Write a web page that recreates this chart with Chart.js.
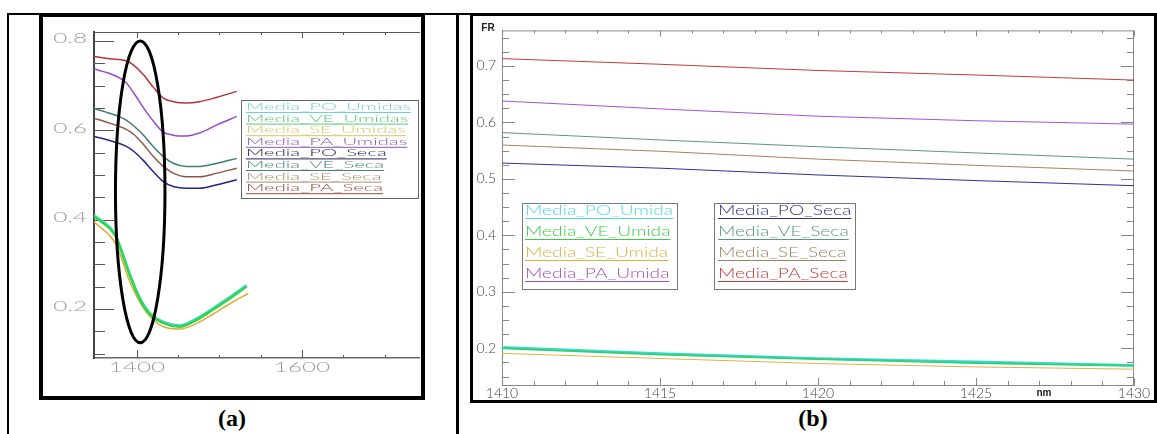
<!DOCTYPE html>
<html>
<head>
<meta charset="utf-8">
<script src="https://cdn.jsdelivr.net/npm/chart.js@4"></script>
<style>
  body { margin: 0; background: #fff; width: 1157px; height: 434px; position: relative; overflow: hidden; }
  .line { position: absolute; background: #000; }
  .frame { position: absolute; border: 4px solid #000; box-sizing: border-box; pointer-events: none; }
  .box { position: absolute; }
  .cap { position: absolute; width: 60px; text-align: center; font: bold 24px "Liberation Serif"; line-height: 28px; }
</style>
</head>
<body>
<div class="line" style="left:7px;top:13px;width:2px;height:421px"></div>
<div class="line" style="left:7px;top:13px;width:1150px;height:2px"></div>
<div class="line" style="left:456px;top:13px;width:3px;height:421px"></div>
<div class="box" style="left:43px;top:17px;width:377px;height:378px"><canvas id="chartA"></canvas></div>
<div class="box" style="left:473px;top:16px;width:684px;height:386px"><canvas id="chartB"></canvas></div>
<div class="frame" style="left:39px;top:13px;width:386px;height:387px"></div>
<div class="frame" style="left:470px;top:13px;width:687px;height:390px;border-width:3px"></div>
<div class="cap" style="left:202px;top:404px">(a)</div>
<div class="cap" style="left:783px;top:404px">(b)</div>

<script>
// ---------- dados (a): espectro 1348-1540 nm ----------
const xA = [1348, 1367, 1386, 1396, 1408, 1420, 1432, 1444, 1460, 1476, 1497, 1521];
const poSecaA = [0.586, 0.577, 0.565, 0.553, 0.532, 0.507, 0.485, 0.474, 0.470, 0.470, 0.478, 0.489];
const veSecaA = [0.649, 0.638, 0.624, 0.610, 0.589, 0.563, 0.541, 0.526, 0.519, 0.519, 0.526, 0.537];
const seSecaA = [0.627, 0.616, 0.603, 0.591, 0.568, 0.541, 0.519, 0.504, 0.496, 0.496, 0.504, 0.515];
const paSecaA = [0.765, 0.760, 0.756, 0.746, 0.724, 0.696, 0.672, 0.664, 0.661, 0.664, 0.674, 0.687];
const paUmidaA = [0.737, 0.727, 0.708, 0.684, 0.650, 0.620, 0.596, 0.589, 0.587, 0.594, 0.612, 0.631];

const xUmidaA = [1348, 1373, 1379, 1392, 1404, 1416, 1432, 1452, 1472, 1492, 1513, 1533];
const veUmidaA = [0.407, 0.366, 0.340, 0.272, 0.220, 0.187, 0.168, 0.160, 0.175, 0.198, 0.224, 0.250];
const poUmidaA = [0.410, 0.369, 0.343, 0.275, 0.223, 0.190, 0.171, 0.163, 0.178, 0.201, 0.227, 0.253];
const xSeUmidaA = [1348, 1375, 1392, 1412, 1432, 1452, 1472, 1492, 1513, 1535];
const seUmidaA = [0.395, 0.343, 0.258, 0.191, 0.160, 0.155, 0.167, 0.188, 0.212, 0.235];

const xTicksA = [1400, 1450, 1500, 1550, 1600, 1650, 1700];
const xLabelsA = [1400, 1600];
const yTicksA = [0.1, 0.15, 0.2, 0.25, 0.3, 0.35, 0.4, 0.45, 0.5, 0.55, 0.6, 0.65, 0.7, 0.75, 0.8];
const yLabelsA = [0.2, 0.4, 0.6, 0.8];
const namesA = ['Media_PO_Umidas', 'Media_VE_Umidas', 'Media_SE_Umidas', 'Media_PA_Umidas',
                'Media_PO_Seca', 'Media_VE_Seca', 'Media_SE_Seca', 'Media_PA_Seca'];

// ---------- dados (b): detalhe 1410-1430 nm ----------
const xB = [1410, 1415, 1420, 1425, 1430];
const poUmidaB = [0.202, 0.191, 0.182, 0.176, 0.170];
const veUmidaB = [0.200, 0.189, 0.181, 0.174, 0.169];
const seUmidaB = [0.191, 0.182, 0.173, 0.167, 0.163];
const paUmidaB = [0.638, 0.624, 0.611, 0.603, 0.597];
const poSecaB = [0.528, 0.519, 0.507, 0.497, 0.488];
const veSecaB = [0.582, 0.569, 0.557, 0.546, 0.535];
const seSecaB = [0.560, 0.549, 0.535, 0.524, 0.514];
const paSecaB = [0.713, 0.703, 0.692, 0.684, 0.675];

const xTicksB = [1410, 1411, 1412, 1413, 1414, 1415, 1416, 1417, 1418, 1419, 1420,
                 1421, 1422, 1423, 1424, 1425, 1426, 1427, 1428, 1429, 1430];
const xLabelsB = [1410, 1415, 1420, 1425, 1430];
const yTicksB = [0.15, 0.175, 0.2, 0.225, 0.25, 0.275, 0.3, 0.325, 0.35, 0.375, 0.4, 0.425, 0.45,
                 0.475, 0.5, 0.525, 0.55, 0.575, 0.6, 0.625, 0.65, 0.675, 0.7, 0.725, 0.75];
const yLabelsB = [0.2, 0.3, 0.4, 0.5, 0.6, 0.7];
const namesB = ['Media_PO_Umida', 'Media_VE_Umida', 'Media_SE_Umida', 'Media_PA_Umida',
                'Media_PO_Seca', 'Media_VE_Seca', 'Media_SE_Seca', 'Media_PA_Seca'];

// cores (linha / texto da legenda)
const lineColorsA = ['#48d4d4', '#2fd84a', '#e2a838', '#9a48c8', '#24248a', '#3f7d70', '#8c5846', '#b2343a'];
const textColorsA = ['#74cdd6', '#58c878', '#d8c468', '#8c5aae', '#262650', '#4a8478', '#a88e6e', '#9a4a3a'];
const lineColorsB = ['#40d8e0', '#2fd27a', '#e2b048', '#a656c8', '#33338e', '#5a9686', '#a88262', '#c23c3c'];
const textColorsB = ['#4fd8e2', '#3ccc48', '#dcb040', '#a050c0', '#303088', '#5a9484', '#a08262', '#c03a3a'];

const pts = (xs, ys) => xs.map((x, i) => ({x: x, y: ys[i]}));

function stretch(ctx, text, x, y, k, align) {
  ctx.save();
  ctx.translate(x, y);
  ctx.scale(k, 1);
  ctx.textAlign = align;
  ctx.fillText(text, 0, 0);
  ctx.restore();
}

// marcas para dentro nos 4 lados
const frameTicks = {
  id: 'frameTicks',
  beforeDatasetsDraw(chart, args, o) {
    const {ctx, chartArea: a, scales: {x, y}} = chart;
    ctx.save();
    ctx.strokeStyle = o.color;
    ctx.lineWidth = 1;
    ctx.beginPath();
    ctx.moveTo(a.left, a.top + 0.5);
    ctx.lineTo(a.right, a.top + 0.5);
    if (o.right) {
      ctx.moveTo(a.right - 0.5, a.top);
      ctx.lineTo(a.right - 0.5, a.bottom);
    }
    x.ticks.forEach(t => {
      const p = Math.round(x.getPixelForValue(t.value)) + 0.5;
      const m = o.xMajor.includes(t.value);
      ctx.moveTo(p, a.bottom);
      ctx.lineTo(p, a.bottom - (m ? o.bMaj : o.bMin));
      ctx.moveTo(p, a.top);
      ctx.lineTo(p, a.top + (m ? o.tMaj : o.tMin));
    });
    y.ticks.forEach(t => {
      const p = Math.round(y.getPixelForValue(t.value)) + 0.5;
      const len = o.yMajor.includes(t.value) ? o.lMaj : o.lMin;
      ctx.moveTo(a.left, p);
      ctx.lineTo(a.left + len, p);
      if (o.right) {
        ctx.moveTo(a.right, p);
        ctx.lineTo(a.right - len, p);
      }
    });
    ctx.stroke();
    ctx.restore();
  }
};

// legenda em caixas, texto sublinhado
const boxLegend = {
  id: 'boxLegend',
  afterDatasetsDraw(chart, args, o) {
    const ctx = chart.ctx;
    ctx.save();
    ctx.font = o.font;
    ctx.textBaseline = 'alphabetic';
    const k = o.fitWidth / ctx.measureText(o.fitText).width;
    o.boxes.forEach(b => {
      ctx.fillStyle = '#fff';
      ctx.fillRect(b.x, b.y, b.w, b.h);
      ctx.strokeStyle = o.border;
      ctx.lineWidth = 1;
      ctx.strokeRect(b.x + 0.5, b.y + 0.5, b.w, b.h);
      b.items.forEach((i, n) => {
        const ds = chart.data.datasets[i];
        const yb = b.base + n * o.row;
        ctx.fillStyle = ds.legendColor;
        stretch(ctx, ds.label, b.tx, yb, k, 'left');
        ctx.fillRect(b.tx, yb + o.ul, ctx.measureText(ds.label).width * k, 1);
      });
    });
    ctx.restore();
  }
};

// rótulos dos eixos de (a), esticados na horizontal como no original
const labelsA = {
  id: 'labelsA',
  afterDraw(chart, args, o) {
    const {ctx, chartArea: a, scales: {x, y}} = chart;
    ctx.save();
    ctx.font = o.font;
    ctx.fillStyle = o.color;
    ctx.textBaseline = 'middle';
    yLabelsA.forEach(v => stretch(ctx, v.toFixed(1), a.left - 7, y.getPixelForValue(v) - 2, o.k, 'right'));
    ctx.textBaseline = 'alphabetic';
    xLabelsA.forEach(v => stretch(ctx, String(v), x.getPixelForValue(v), a.bottom + 14, o.k, 'center'));
    ctx.restore();
  }
};

// elipse destacando a banda de 1400 nm
const ring = {
  id: 'ring',
  afterDatasetsDraw(chart, args, o) {
    const {ctx, scales: {x, y}} = chart;
    const cx = x.getPixelForValue(o.x), cy = y.getPixelForValue(o.y);
    const rx = x.getPixelForValue(o.x + o.rx) - cx;
    const ry = cy - y.getPixelForValue(o.y + o.ry);
    ctx.save();
    ctx.lineWidth = 3;
    ctx.strokeStyle = '#000';
    ctx.beginPath();
    ctx.ellipse(cx, cy, rx, ry, 0, 0, 2 * Math.PI);
    ctx.stroke();
    ctx.restore();
  }
};

const axisNames = {
  id: 'axisNames',
  afterDraw(chart) {
    const ctx = chart.ctx;
    ctx.save();
    ctx.font = 'bold 10px "Liberation Sans"';
    ctx.fillStyle = '#222';
    ctx.textAlign = 'center';
    ctx.textBaseline = 'middle';
    ctx.fillText('FR', 15, 12);
    ctx.fillText('nm', 571, 377);
    ctx.restore();
  }
};

// ---------- gráfico (a) ----------
const seriesA = [pts(xUmidaA, poUmidaA), pts(xUmidaA, veUmidaA), pts(xSeUmidaA, seUmidaA), pts(xA, paUmidaA),
                 pts(xA, poSecaA), pts(xA, veSecaA), pts(xA, seSecaA), pts(xA, paSecaA)];
new Chart(document.getElementById('chartA'), {
  type: 'line',
  data: {
    datasets: seriesA.map((d, i) => ({
      label: namesA[i],
      data: d,
      borderColor: lineColorsA[i],
      legendColor: textColorsA[i],
      borderWidth: i < 2 ? 2.5 : 1.5,
      order: i === 1 ? 0 : 1
    }))
  },
  options: {
    responsive: true,
    maintainAspectRatio: false,
    animation: false,
    layout: {padding: {top: 15, right: 0, left: 0, bottom: 0}},
    elements: {point: {radius: 0}, line: {tension: 0.4, cubicInterpolationMode: 'monotone'}},
    plugins: {
      legend: {display: false},
      tooltip: {enabled: false},
      frameTicks: {color: '#555', right: false, xMajor: xLabelsA, yMajor: yLabelsA,
                   bMaj: 8, bMin: 3, tMaj: 6, tMin: 3, lMaj: 20, lMin: 11},
      labelsA: {font: '300 13.5px Lato', color: '#999', k: 1.8},
      ring: {x: 1404, y: 0.462, rx: 30, ry: 0.338},
      boxLegend: {
        font: '300 10px Lato', fitText: 'Media_PO_Umidas', fitWidth: 165, border: '#666', row: 11.6, ul: 2,
        boxes: [{x: 198, y: 83, w: 177, h: 98, tx: 203, base: 93, items: [0, 1, 2, 3, 4, 5, 6, 7]}]
      }
    },
    scales: {
      x: {
        type: 'linear', min: 1348, max: 1743,
        afterBuildTicks: s => { s.ticks = xTicksA.map(v => ({value: v})); },
        afterFit: s => { s.height = 37; },
        ticks: {display: false},
        grid: {display: false, drawTicks: false},
        border: {color: '#666', width: 1.5}
      },
      y: {
        type: 'linear', min: 0.09, max: 0.82,
        afterBuildTicks: s => { s.ticks = yTicksA.map(v => ({value: v})); },
        afterFit: s => { s.width = 51; },
        ticks: {display: false},
        grid: {display: false, drawTicks: false},
        border: {color: '#444', width: 2}
      }
    }
  },
  plugins: [frameTicks, boxLegend, labelsA, ring]
});

// ---------- gráfico (b) ----------
const seriesB = [poUmidaB, veUmidaB, seUmidaB, paUmidaB, poSecaB, veSecaB, seSecaB, paSecaB];
new Chart(document.getElementById('chartB'), {
  type: 'line',
  data: {
    datasets: seriesB.map((d, i) => ({
      label: namesB[i],
      data: pts(xB, d),
      borderColor: lineColorsB[i],
      legendColor: textColorsB[i],
      borderWidth: i === 0 ? 2.5 : (i === 1 ? 2 : 1),
      order: i === 1 ? 0 : 1
    }))
  },
  options: {
    responsive: true,
    maintainAspectRatio: false,
    animation: false,
    layout: {padding: {top: 7, right: 23, left: 0, bottom: 0}},
    elements: {point: {radius: 0}, line: {tension: 0}},
    plugins: {
      legend: {display: false},
      tooltip: {enabled: false},
      frameTicks: {color: '#888', right: true, xMajor: xLabelsB, yMajor: yLabelsB,
                   bMaj: 7, bMin: 4, tMaj: 6, tMin: 3, lMaj: 13, lMin: 7},
      boxLegend: {
        font: '300 14px Lato', fitText: 'Media_PO_Umida', fitWidth: 148, border: '#777', row: 21, ul: 3,
        boxes: [
          {x: 49, y: 187, w: 155, h: 86, tx: 52, base: 199, items: [0, 1, 2, 3]},
          {x: 241, y: 187, w: 141, h: 86, tx: 245, base: 199, items: [4, 5, 6, 7]}
        ]
      }
    },
    scales: {
      x: {
        type: 'linear', min: 1410, max: 1430,
        afterBuildTicks: s => { s.ticks = xTicksB.map(v => ({value: v})); },
        afterFit: s => { s.height = 17; },
        ticks: {
          autoSkip: false, maxRotation: 0, padding: 0, color: '#444',
          font: {family: 'Lato', weight: 300, size: 14},
          callback: v => xLabelsB.includes(v) ? String(v) : ''
        },
        grid: {display: false, drawTicks: false},
        border: {color: '#888', width: 1}
      },
      y: {
        type: 'linear', min: 0.135, max: 0.763,
        afterBuildTicks: s => { s.ticks = yTicksB.map(v => ({value: v})); },
        afterFit: s => { s.width = 29; },
        ticks: {
          autoSkip: false, padding: 6, color: '#444',
          font: {family: 'Lato', weight: 300, size: 14},
          callback: v => yLabelsB.includes(v) ? v.toFixed(1) : ''
        },
        grid: {display: false, drawTicks: false},
        border: {color: '#888', width: 1}
      }
    }
  },
  plugins: [frameTicks, boxLegend, axisNames]
});
</script>
</body>
</html>
